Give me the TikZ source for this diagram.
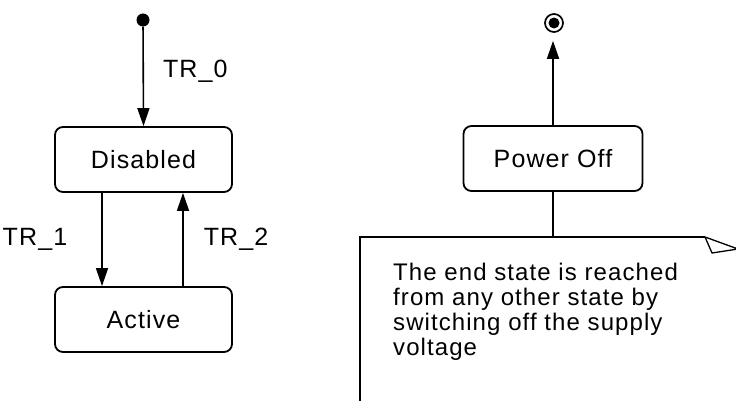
\documentclass[tikz,border=0pt]{standalone}
\usepackage{fontspec}
\setmainfont[LetterSpace=4.5]{Liberation Sans}
\usetikzlibrary{arrows.meta,positioning}

\tikzset{
    statebox/.style={draw, line width=1.8pt, rounded corners=8pt,
        minimum width=177pt, minimum height=65pt, inner sep=0pt},
    startdot/.style={circle, fill=black, minimum size=13pt, inner sep=0pt},
    endring/.style={circle, draw, line width=1.7pt, minimum size=18pt, inner sep=0pt,
        path picture={\fill (path picture bounding box.center) circle (5.5pt);}},
    trans/.style={draw, line width=1.6pt, -{Triangle[length=18pt,width=12pt]}},
    plainline/.style={draw, line width=1.6pt},
    trlabel/.style={inner sep=0pt}
}

\begin{document}
\begin{tikzpicture}[x=1pt, y=-1pt, font=\fontsize{25}{25}\selectfont]

  \clip (0,0) rectangle (736,401);

  % left machine
  \node[startdot] (init) at (143,20) {};
  \node[statebox] (disabled) at (143.5,159.5) {Disabled};
  \node[statebox] (active) at (143.5,319.5) {Active};

  \draw[trans] (init) -- (disabled.north)
      node[trlabel, pos=0.45, right=19pt] {TR\_0};
  \draw[trans] ([xshift=-41.5pt]disabled.south) -- ([xshift=-41.5pt]active.north)
      node[trlabel, midway, left=34pt] {TR\_1};
  \draw[trans] ([xshift=39.5pt]active.north) -- ([xshift=39.5pt]disabled.south)
      node[trlabel, midway, right=20pt] {TR\_2};

  % right machine
  \node[endring] (final) at (554,23) {};
  \node[statebox, minimum width=179pt] (poweroff) at (553,158.5) {Power Off};
  \draw[trans, shorten >=8pt] (poweroff.north) -- (poweroff.north |- final.south);

  % note
  \coordinate (noteNW) at (360,237);
  \coordinate (noteFold) at (705,237);
  \draw[plainline] (360,420) -- (noteNW) -- (noteFold);
  \draw[line width=1.3pt, line join=round] (noteFold) -- (712,253) -- (738,249) -- cycle;
  \draw[plainline] (poweroff.south) -- (poweroff.south |- noteNW);
  \node[anchor=north west, align=left, inner sep=0pt,
        font=\fontsize{24}{25}\selectfont] (notetext) at (393,263)
      {The end state is reached\\from any other state by\\switching off the supply\\voltage};

\end{tikzpicture}
\end{document}
